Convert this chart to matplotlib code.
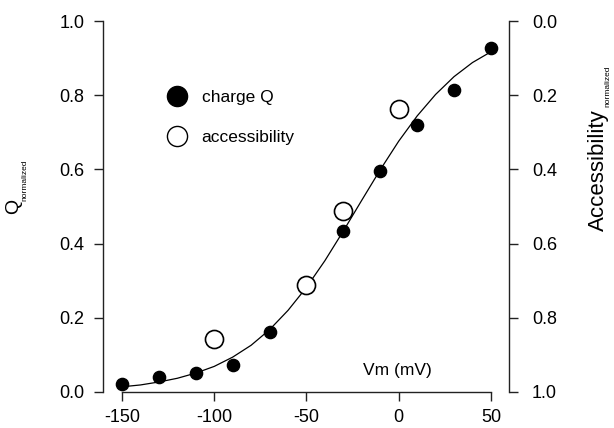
import matplotlib
matplotlib.use("Agg")
import matplotlib.pyplot as plt
from matplotlib.lines import Line2D

plt.rcParams['font.family'] = ['Liberation Sans', 'DejaVu Sans']

# ---- data ----
vm_charge = [-150, -130, -110, -90, -70, -30, -10, 10, 30, 50]
q_charge = [0.022, 0.040, 0.050, 0.072, 0.163, 0.433, 0.595, 0.721, 0.815, 0.927]

vm_access = [-100, -50, -30, 0]
access_vals = [0.856, 0.712, 0.511, 0.237]   # right axis (inverted)

vm_fit = [-150, -140, -130, -120, -110, -100, -90, -80, -70, -60, -50,
          -40, -30, -20, -10, 0, 10, 20, 30, 40, 50]
q_fit = [0.014, 0.019, 0.027, 0.037, 0.051, 0.069, 0.094, 0.126, 0.168,
         0.220, 0.282, 0.354, 0.434, 0.517, 0.599, 0.676, 0.744, 0.802,
         0.850, 0.888, 0.917]

x_ticks = [-150, -100, -50, 0, 50]
y_ticks = [0.0, 0.2, 0.4, 0.6, 0.8, 1.0]

W, H = 614, 428
fig = plt.figure(figsize=(W / 100, H / 100), dpi=100)
ax = fig.add_axes([103 / W, 36 / H, 406 / W, 371 / H])

ax.plot(vm_fit, q_fit, color='black', lw=0.9, zorder=2)
ax.plot(vm_charge, q_charge, linestyle='none', marker='o', ms=8.8,
        mfc='black', mec='black', zorder=3)

ax.set_xlim(-160.3, 59.8)
ax.set_ylim(0, 1)
ax.set_xticks(x_ticks)
ax.set_xticklabels([str(v) for v in x_ticks])
ax.set_yticks(y_ticks)
ax.set_yticklabels([f"{v:.1f}" for v in y_ticks])

ax.spines['top'].set_visible(False)
ax.spines['right'].set_visible(False)
ax.spines['bottom'].set_bounds(-150, 50)
for s in ['left', 'bottom']:
    ax.spines[s].set_linewidth(1.0)
    ax.spines[s].set_color('#222222')

ax.tick_params(axis='x', direction='out', length=6.5, width=1.0, pad=6,
               labelsize=13, color='#222222')
ax.tick_params(axis='y', direction='out', length=6.5, width=1.0, pad=6.7,
               labelsize=13, color='#222222')

ax2 = ax.twinx()
ax2.plot(vm_access, access_vals, linestyle='none', marker='o', ms=13,
         mfc='white', mec='black', mew=1.2, zorder=4)
ax2.set_ylim(1, 0)
ax2.set_yticks(y_ticks)
ax2.set_yticklabels([f"{v:.1f}" for v in y_ticks])
for s in ['top', 'left', 'bottom']:
    ax2.spines[s].set_visible(False)
ax2.spines['right'].set_linewidth(1.0)
ax2.spines['right'].set_color('#222222')
ax2.tick_params(axis='y', direction='out', length=6.5, width=1.0, pad=9.9,
                labelsize=13, color='#222222')

# legend
handles = [Line2D([], [], linestyle='none', marker='o', ms=14.5, mfc='black', mec='black'),
           Line2D([], [], linestyle='none', marker='o', ms=14.5, mfc='white', mec='black', mew=1.0)]
ax2.legend(handles, ['charge Q', 'accessibility'], loc='upper left',
           bbox_to_anchor=(168 / W, 1 - 90 / H), bbox_transform=fig.transFigure,
           frameon=False, fontsize=12.5, handlelength=1.0, handletextpad=0.94,
           labelspacing=1.4, borderpad=0, borderaxespad=0)

ax.text((397 - 103) / 406, (392 - 370) / 371, 'Vm (mV)', transform=ax.transAxes,
        ha='center', va='center', fontsize=12.5)

# axis labels (with small subscripts)
fig.text(14 / W, 1 - 206 / H, 'Q', rotation=90, ha='center', va='center', fontsize=14)
fig.text(25 / W, 1 - 180 / H, 'normalized', rotation=90, ha='center', va='center', fontsize=6)
fig.text(598 / W, 1 - 170 / H, 'Accessibility', rotation=90, ha='center', va='center', fontsize=16)
fig.text(607.5 / W, 1 - 86 / H, 'normalized', rotation=90, ha='center', va='center', fontsize=6)

fig.savefig('out.png', dpi=100)
